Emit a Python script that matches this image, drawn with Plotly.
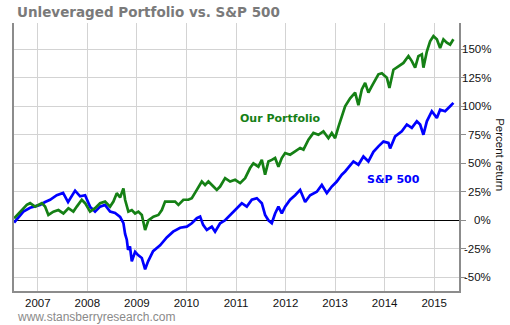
import plotly.graph_objects as go

# ---- data (decimal years, percent return) ----
sp_t = [2006.522, 2006.709, 2006.845, 2007.046, 2007.147, 2007.248, 2007.383, 2007.511, 2007.611,
        2007.753, 2007.854, 2007.955, 2008.054, 2008.156, 2008.257, 2008.356, 2008.459, 2008.560,
        2008.661, 2008.728, 2008.762, 2008.796, 2008.822, 2008.860, 2008.897, 2008.964, 2009.024,
        2009.099, 2009.166, 2009.226, 2009.327, 2009.468, 2009.603, 2009.731, 2009.872, 2010.007,
        2010.108, 2010.209, 2010.276, 2010.336, 2010.411, 2010.512, 2010.578, 2010.679, 2010.780,
        2010.881, 2010.982, 2011.117, 2011.218, 2011.319, 2011.420, 2011.521, 2011.587, 2011.654,
        2011.722, 2011.789, 2011.856, 2011.924, 2011.991, 2012.092, 2012.193, 2012.294, 2012.395,
        2012.495, 2012.631, 2012.732, 2012.833, 2012.933, 2013.034, 2013.135, 2013.202, 2013.369,
        2013.470, 2013.571, 2013.672, 2013.773, 2013.874, 2013.975, 2014.076, 2014.110, 2014.211,
        2014.346, 2014.447, 2014.548, 2014.649, 2014.716, 2014.782, 2014.851, 2014.952, 2015.053,
        2015.119, 2015.220, 2015.321, 2015.387]
sp_v = [-2, 7.6, 11, 13.5, 16, 18, 22, 24, 16,
        26, 21, 22, 12, 7.6, 12, 13.5, 7.6, 6.4,
        3, -2.5, -12, -17, -26, -23, -36, -27.6, -30.5,
        -33, -43, -36, -27, -22, -15, -10, -6.5, -5.6,
        -2.6, 1.8, 3.2, -4, -8.5, -5.6, -10, -2.6, 0,
        4.7, 9.5, 15, 12, 18, 19.4, 15, 4.7, 0,
        -2.6, 6, 12, 6, 12, 18, 22, 26.7, 16,
        22, 25, 31, 23.8, 29.6, 34, 40, 42.8, 51.6,
        48.7, 56, 51.6, 60, 64.8, 69, 67.8, 63, 73.6,
        78, 84, 81, 86.8, 84, 75, 86.8, 95.6, 89.8,
        97, 95.6, 100, 103]

pf_t = [2006.522, 2006.643, 2006.778, 2006.845, 2006.946, 2007.081, 2007.147, 2007.214, 2007.315,
        2007.416, 2007.517, 2007.618, 2007.718, 2007.787, 2007.888, 2007.955, 2008.055, 2008.156,
        2008.257, 2008.358, 2008.459, 2008.526, 2008.594, 2008.661, 2008.728, 2008.762, 2008.828,
        2008.897, 2008.964, 2009.030, 2009.099, 2009.166, 2009.232, 2009.333, 2009.434, 2009.503,
        2009.569, 2009.670, 2009.771, 2009.838, 2009.938, 2010.039, 2010.108, 2010.209, 2010.310,
        2010.376, 2010.443, 2010.544, 2010.612, 2010.679, 2010.780, 2010.881, 2010.982, 2011.083,
        2011.184, 2011.284, 2011.351, 2011.452, 2011.521, 2011.587, 2011.654, 2011.722, 2011.789,
        2011.856, 2011.924, 2011.991, 2012.092, 2012.193, 2012.294, 2012.361, 2012.462, 2012.562,
        2012.663, 2012.764, 2012.865, 2012.933, 2013.000, 2013.067, 2013.135, 2013.202, 2013.303,
        2013.404, 2013.470, 2013.539, 2013.606, 2013.672, 2013.741, 2013.807, 2013.874, 2013.943,
        2014.044, 2014.096, 2014.177, 2014.278, 2014.379, 2014.480, 2014.548, 2014.615, 2014.681,
        2014.750, 2014.782, 2014.851, 2014.917, 2014.984, 2015.053, 2015.119, 2015.186, 2015.254,
        2015.321, 2015.387]
pf_v = [1.8, 7.6, 13.5, 15, 12, 15, 12, 4.7, 7.6,
        9, 6, 10.6, 7.6, 12, 18, 15, 7.6, 10.6,
        15, 16.4, 12, 16.4, 23.8, 20, 28, 18, 7.6,
        9, 6, 7.6, 4.7, -8.5, 0, 3.2, 4.7, 9,
        16.4, 16.4, 16.4, 13.5, 18, 18, 19.4, 26.7, 34,
        31, 34, 29.6, 26.7, 29.6, 37, 34, 35.5, 32.6,
        37, 45.8, 50, 47, 53, 40, 51.6, 53, 54.6,
        47, 54.6, 59, 57.5, 60.4, 63.4, 62, 70.7, 76.6,
        75, 78, 72, 76.6, 72, 82, 91, 100, 107,
        112, 101, 114.7, 120.5, 112, 117.6, 123.5, 128, 129,
        125, 116, 132, 135, 138, 144, 139.6, 133.8, 144,
        145.5, 133.8, 148, 157, 161.6, 158.7, 151, 158.7, 155.8,
        154, 158.7]

year_ticks = [2007, 2008, 2009, 2010, 2011, 2012, 2013, 2014, 2015]
year_labels = [str(y) for y in year_ticks]
pct_ticks = [-50, -25, 0, 25, 50, 75, 100, 125, 150]
pct_labels = [f"{v}%" for v in pct_ticks]

GREEN = "#158015"
BLUE = "#0000ff"
AXIS = "#8c8c8c"
GRID = "#d3d3d3"

fig = go.Figure()
fig.add_trace(go.Scatter(x=sp_t, y=sp_v, mode="lines", name="S&P 500",
                         line=dict(color=BLUE, width=2.7)))
fig.add_trace(go.Scatter(x=pf_t, y=pf_v, mode="lines", name="Our Portfolio",
                         line=dict(color=GREEN, width=2.7)))

annotations = []
for v, lab in zip(pct_ticks, pct_labels):
    annotations.append(dict(xref="paper", yref="y", x=1.0764, y=v, text=lab,
                            showarrow=False, xanchor="right", yanchor="middle",
                            font=dict(family="Liberation Sans, Arial", size=11.5, color="#111")))
annotations += [
    dict(xref="x", yref="y", x=2011.89, y=89.7, text="<b>Our Portfolio</b>", showarrow=False,
         font=dict(family="DejaVu Sans", size=11, color=GREEN)),
    dict(xref="x", yref="y", x=2014.18, y=36.2, text="<b>S&P 500</b>", showarrow=False,
         font=dict(family="DejaVu Sans", size=11, color=BLUE)),
    dict(xref="paper", yref="paper", x=1.092, y=0.507, text="Percent return", textangle=90,
         showarrow=False, xanchor="center", yanchor="middle",
         font=dict(family="Liberation Sans, Arial", size=11.5, color="#111")),
    dict(xref="paper", yref="paper", x=0.002, y=-0.097, text="www.stansberryresearch.com",
         showarrow=False, xanchor="left", yanchor="middle",
         font=dict(family="Liberation Sans, Arial", size=12, color="#8a8a8a")),
]

fig.update_layout(
    width=510, height=325,
    margin=dict(l=14, r=51, t=23, b=34),
    paper_bgcolor="white", plot_bgcolor="white",
    showlegend=False,
    title=dict(text="<b>Unleveraged Portfolio vs. S&P 500</b>", xref="container", yref="container",
               x=17 / 510, y=1 - 12 / 325, xanchor="left", yanchor="middle",
               font=dict(family="DejaVu Sans", size=13.5, color="#7a7a7a")),
    annotations=annotations,
    xaxis=dict(range=[2006.52, 2015.50], tickvals=year_ticks, ticktext=year_labels,
               showgrid=True, gridcolor=GRID, gridwidth=1, zeroline=False,
               showline=True, linecolor=AXIS, linewidth=1.5, ticks="",
               tickfont=dict(family="Liberation Sans, Arial", size=11.5, color="#111")),
    yaxis=dict(range=[-62, 173], side="right", tickvals=pct_ticks, showticklabels=False,
               showgrid=True, gridcolor=GRID, gridwidth=1,
               zeroline=True, zerolinecolor="#000", zerolinewidth=1.2,
               showline=True, mirror=True, linecolor=AXIS, linewidth=1.5,
               ticks="outside", ticklen=5, tickcolor=AXIS, tickwidth=1),
)

fig.write_html("out.html")
